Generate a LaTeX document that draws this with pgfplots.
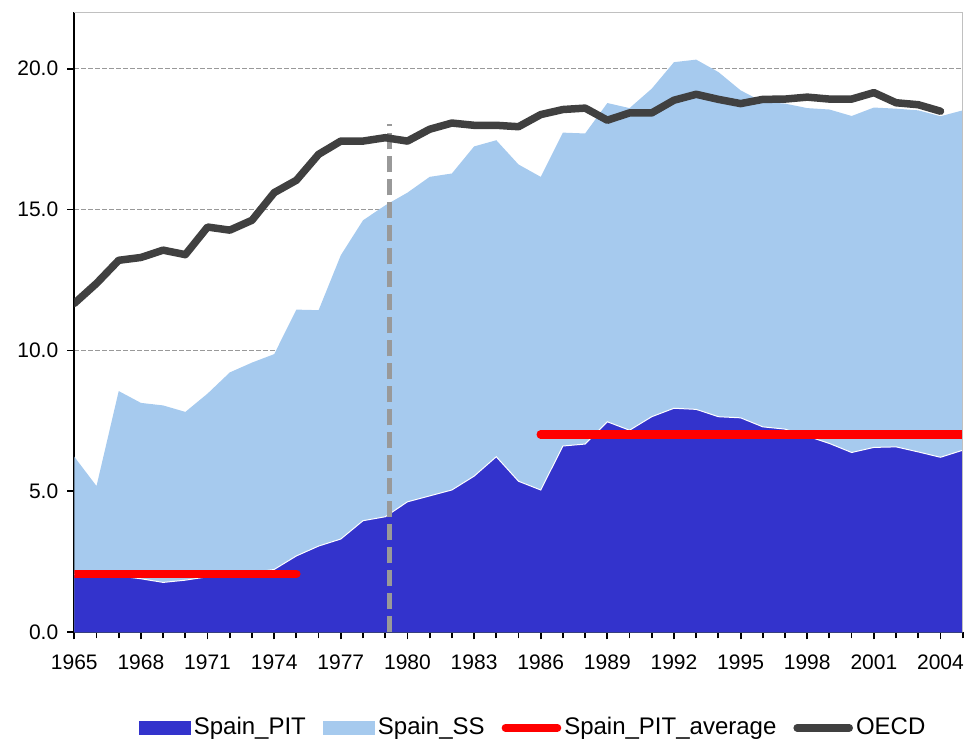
\documentclass[border=0pt]{standalone}
\usepackage{fontspec}
\setmainfont{Liberation Sans}
\usepackage{pgfplots}
\pgfplotsset{compat=1.18}
\usepackage{pgfplotstable}
\definecolor{pitblue}{RGB}{51,51,204}
\definecolor{ssblue}{RGB}{166,202,238}
\definecolor{oecdgray}{RGB}{64,64,64}
\definecolor{gridgray}{RGB}{153,153,153}
\definecolor{bordergray}{RGB}{192,192,192}

\pgfplotsset{
  arealeg/.style={legend image code/.code={\fill[##1] (0pt,-3.5pt) rectangle (26pt,3.5pt);}},
  lineleg/.style={legend image code/.code={\draw[##1,line width=3.8pt,line cap=round] (1.5pt,0pt) -- (27.5pt,0pt);}},
}

% year, Spain_PIT, Spain total (PIT+SS), OECD
\pgfplotstableread{
year PIT total OECD
1965 2.05 6.23 11.67
1966 2.03 5.19 12.38
1967 2.00 8.56 13.20
1968 1.90 8.14 13.30
1969 1.77 8.05 13.56
1970 1.85 7.82 13.40
1971 1.97 8.47 14.38
1972 2.05 9.22 14.27
1973 2.12 9.57 14.62
1974 2.23 9.87 15.60
1975 2.71 11.45 16.04
1976 3.06 11.43 16.96
1977 3.31 13.38 17.43
1978 3.96 14.62 17.43
1979 4.10 15.15 17.55
1980 4.63 15.60 17.43
1981 4.84 16.16 17.85
1982 5.05 16.28 18.07
1983 5.54 17.24 17.99
1984 6.23 17.46 17.99
1985 5.36 16.60 17.94
1986 5.05 16.16 18.37
1987 6.61 17.73 18.55
1988 6.68 17.70 18.60
1989 7.47 18.78 18.17
1990 7.17 18.60 18.43
1991 7.65 19.29 18.43
1992 7.95 20.23 18.88
1993 7.91 20.32 19.09
1994 7.65 19.88 18.91
1995 7.61 19.23 18.76
1996 7.29 18.82 18.91
1997 7.21 18.76 18.92
1998 6.96 18.60 18.99
1999 6.70 18.55 18.92
2000 6.38 18.32 18.92
2001 6.56 18.62 19.15
2002 6.58 18.58 18.79
2003 6.40 18.52 18.72
2004 6.21 18.31 18.49
2005 6.46 18.52 nan
}\data

\begin{document}
\begin{tikzpicture}
\begin{axis}[name=ax, scale only axis, width=444.2pt, height=310pt,
  xmin=1965, xmax=2005, ymin=0, ymax=22,
  axis x line*=bottom, axis y line*=left,
  axis line style={black, line width=0.9pt, -},
  xtick={1965,1968,...,2004}, minor xtick={1965,...,2005},
  ytick={0,5,10,15,20},
  tick align=outside, major tick length=3.5pt, minor tick length=3pt,
  tick style={black, line width=0.9pt},
  /pgf/number format/assume math mode=true,
  tick label style={font=\fontsize{10.5}{12}\selectfont},
  x tick label style={/pgf/number format/1000 sep={}, yshift=-4pt},
  y tick label style={/pgf/number format/fixed, /pgf/number format/fixed zerofill, /pgf/number format/precision=1, xshift=-1pt},
  ymajorgrids, grid style={gridgray, dash pattern=on 2.2pt off 1.3pt, line width=0.65pt},
  legend style={at={(0.517,-0.154)}, anchor=center, draw=none, fill=none,
    legend columns=4, font=\fontsize{12}{14}\selectfont,
    /tikz/every even column/.append style={column sep=7pt},
    nodes={inner sep=1.5pt}},
]
\addplot[fill=ssblue, draw=none, forget plot] table[x=year,y=total]{\data} \closedcycle;
\addplot[fill=pitblue, draw=none, arealeg] table[x=year,y=PIT]{\data} \closedcycle;
\addlegendimage{arealeg, fill=ssblue, draw=none}
\addplot[white, line width=0.5pt, forget plot] table[x=year,y=PIT]{\data};
\addplot[red, line width=4.2pt, line cap=round, lineleg] coordinates {(1965,2.07) (1975,2.07)};
\addplot[red, line width=4.2pt, line cap=round, forget plot] coordinates {(1986,7.02) (2005,7.02)};
\addplot[draw=gridgray, line width=2.4pt, dash pattern=on 8pt off 3.5pt, forget plot] coordinates {(1979.2,0) (1979.2,18.05)};
\addplot[oecdgray, line width=3.75pt, line join=round, line cap=round, lineleg] table[x=year,y=OECD]{\data};
\legend{Spain\_PIT, Spain\_SS, Spain\_PIT\_average, OECD}
\end{axis}
\draw[bordergray, line width=0.7pt] (ax.north west) -- (ax.north east) -- (ax.south east);
\pgfresetboundingbox
\path[use as bounding box] ([xshift=-37.15pt,yshift=-54.85pt]ax.south west) rectangle ([xshift=2.15pt,yshift=6.15pt]ax.north east);
\end{tikzpicture}
\end{document}
